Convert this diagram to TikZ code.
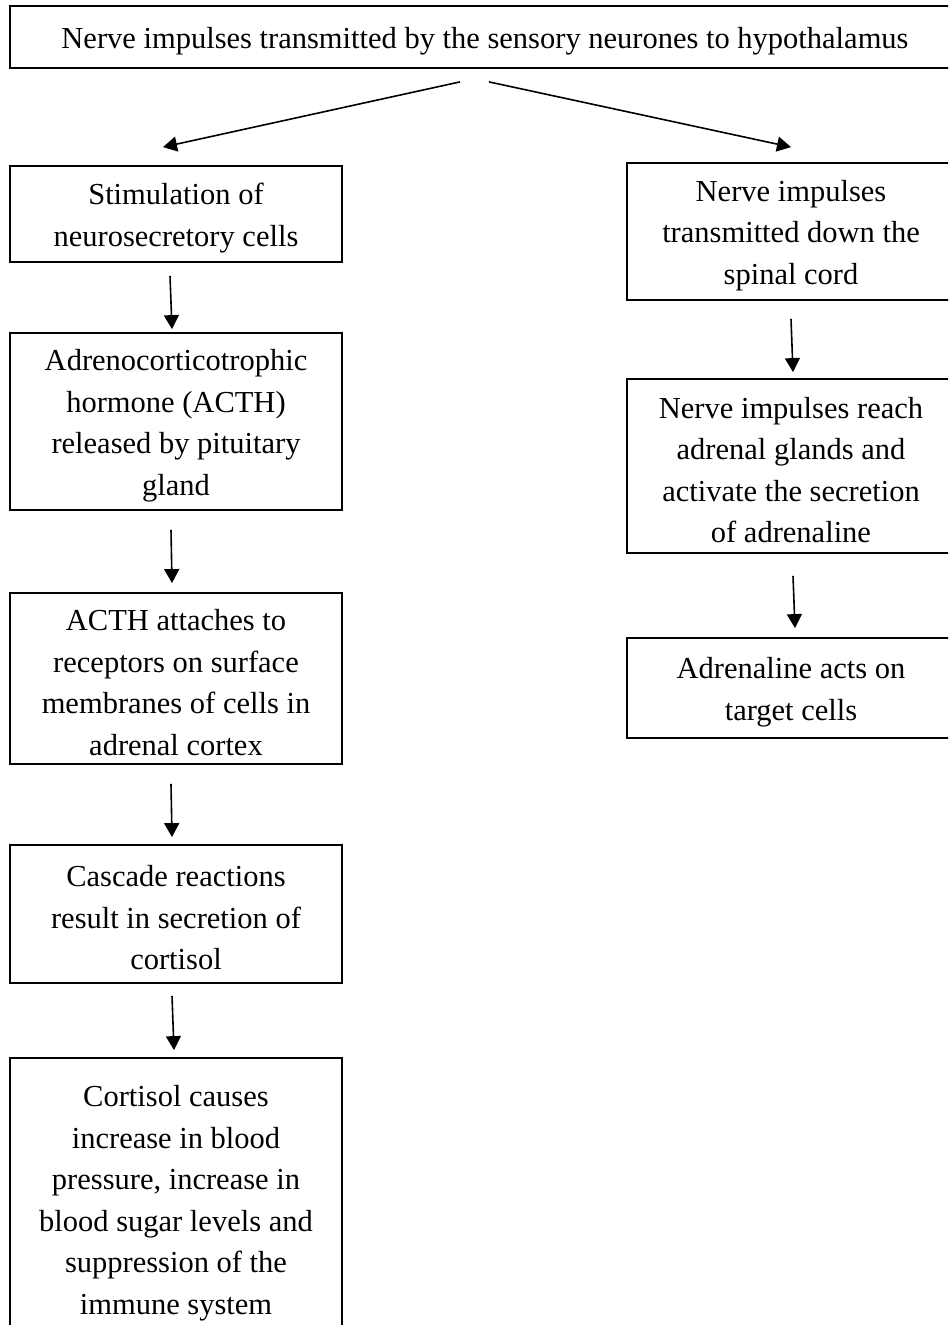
\documentclass[tikz,border=0pt]{standalone}
\usepackage{fontspec}
\setmainfont{Liberation Serif}
\usetikzlibrary{arrows.meta}
\begin{document}
\begin{tikzpicture}[x=1pt,y=-1pt,
  box/.style={draw=black,line width=1.8pt,inner sep=0pt},
  txt/.style={align=center,inner sep=0pt,yshift=-4pt,font=\fontsize{30.5pt}{41.5pt}\selectfont},
  arr/.style={line width=1.6pt,-{Triangle[length=14pt,width=15pt]}}]
\useasboundingbox (0,0) rectangle (948,1325);
\clip (0,0) rectangle (948,1325);
\node[box,minimum width=950pt,minimum height=62pt] (top) at (485,37) {};
\node[box,minimum width=332pt,minimum height=96pt] (L1) at (176,214) {};
\node[box,minimum width=332pt,minimum height=177pt] (L2) at (176,421.5) {};
\node[box,minimum width=332pt,minimum height=171pt] (L3) at (176,678.5) {};
\node[box,minimum width=332pt,minimum height=138pt] (L4) at (176,914) {};
\node[box,minimum width=332pt,minimum height=282pt] (L5) at (176,1199) {};
\node[box,minimum width=328pt,minimum height=137pt] (R1) at (791,231.5) {};
\node[box,minimum width=328pt,minimum height=174pt] (R2) at (791,466) {};
\node[box,minimum width=328pt,minimum height=100pt] (R3) at (791,688) {};
\node[txt] (topt) at (top) {Nerve impulses transmitted by the sensory neurones to hypothalamus};
\node[txt] (L1t) at (L1) {Stimulation of\\neurosecretory cells};
\node[txt] (L2t) at (L2) {Adrenocorticotrophic\\hormone (ACTH)\\released by pituitary\\gland};
\node[txt] (L3t) at (L3) {ACTH attaches to\\receptors on surface\\membranes of cells in\\adrenal cortex};
\node[txt] (L4t) at (L4) {Cascade reactions\\result in secretion of\\cortisol};
\node[txt] (L5t) at (L5) {Cortisol causes\\increase in blood\\pressure, increase in\\blood sugar levels and\\suppression of the\\immune system};
\node[txt] (R1t) at (R1) {Nerve impulses\\transmitted down the\\spinal cord};
\node[txt] (R2t) at (R2) {Nerve impulses reach\\adrenal glands and\\activate the secretion\\of adrenaline};
\node[txt] (R3t) at (R3) {Adrenaline acts on\\target cells};
\draw[arr] ([xshift=-25pt,yshift=-13pt]top.south) -- ([xshift=-13pt,yshift=18pt]L1.north);
\draw[arr] ([xshift=4pt,yshift=-13pt]top.south) -- ([yshift=15pt]R1.north);
\draw[arr] ([xshift=-6pt,yshift=-13pt]L1.south) -- ([xshift=-4pt,yshift=3pt]L2.north);
\draw[arr] ([xshift=-5pt,yshift=-19pt]L2.south) -- ([xshift=-4pt,yshift=9pt]L3.north);
\draw[arr] ([xshift=-5pt,yshift=-19pt]L3.south) -- ([xshift=-4pt,yshift=7pt]L4.north);
\draw[arr] ([xshift=-4pt,yshift=-12pt]L4.south) -- ([xshift=-2pt,yshift=7pt]L5.north);
\draw[arr] ([yshift=-18pt]R1.south) -- ([xshift=2pt,yshift=6pt]R2.north);
\draw[arr] ([xshift=2pt,yshift=-22pt]R2.south) -- ([xshift=4pt,yshift=9pt]R3.north);
\end{tikzpicture}
\end{document}
